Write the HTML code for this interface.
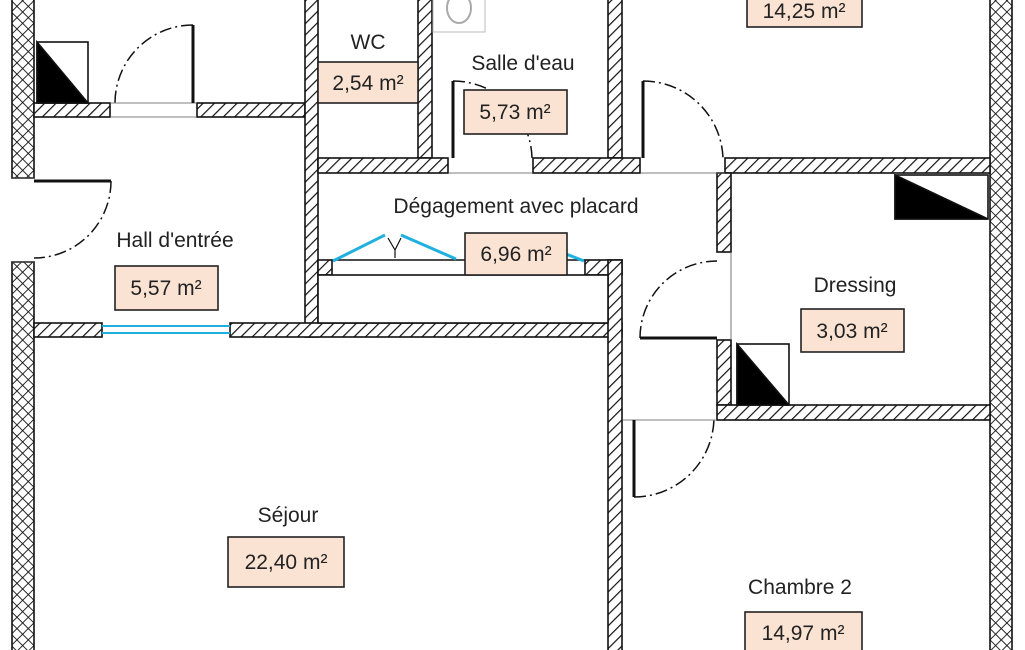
<!DOCTYPE html>
<html><head><meta charset="utf-8"><style>
html,body{margin:0;padding:0;background:#fff;}
svg{display:block;}
text{font-family:"Liberation Sans",sans-serif;fill:#222;}
</style></head><body>
<svg width="1025" height="650" viewBox="0 0 1025 650" xmlns="http://www.w3.org/2000/svg">
<defs>
<pattern id="h" width="8" height="8" patternUnits="userSpaceOnUse" patternTransform="rotate(45)">
<rect width="8" height="8" fill="#fff"/><line x1="0" y1="0" x2="0" y2="8" stroke="#111" stroke-width="2.4"/>
</pattern>
<pattern id="x" width="8" height="8" patternUnits="userSpaceOnUse" patternTransform="rotate(45)">
<rect width="8" height="8" fill="#fff"/><line x1="0" y1="0" x2="0" y2="8" stroke="#111" stroke-width="1.8"/><line x1="0" y1="0" x2="8" y2="0" stroke="#111" stroke-width="1.8"/>
</pattern>
</defs>
<g stroke="#111" stroke-width="1.6">
<rect x="12" y="-2" width="22" height="180" fill="url(#x)"/>
<rect x="12" y="262" width="22" height="392" fill="url(#x)"/>
<rect x="990" y="-2" width="22" height="656" fill="url(#x)"/>
<rect x="34" y="103" width="76" height="14" fill="url(#h)"/>
<rect x="197" y="103" width="108" height="14" fill="url(#h)"/>
<rect x="305" y="-2" width="13" height="339" fill="url(#h)"/>
<rect x="418" y="-2" width="14" height="160" fill="url(#h)"/>
<rect x="608" y="-2" width="14" height="160" fill="url(#h)"/>
<rect x="318" y="158" width="130" height="15" fill="url(#h)"/>
<rect x="533" y="158" width="107" height="15" fill="url(#h)"/>
<rect x="725" y="158" width="265" height="15" fill="url(#h)"/>
<rect x="717" y="173" width="14" height="79" fill="url(#h)"/>
<rect x="717" y="340" width="14" height="65" fill="url(#h)"/>
<rect x="717" y="405" width="273" height="15" fill="url(#h)"/>
<rect x="34" y="323" width="68" height="14" fill="url(#h)"/>
<rect x="230" y="323" width="392" height="14" fill="url(#h)"/>
<rect x="318" y="260" width="14" height="15" fill="url(#h)"/>
<rect x="585" y="260" width="37" height="15" fill="url(#h)"/>
<rect x="608" y="260" width="14" height="394" fill="url(#h)"/>
<rect x="318" y="275" width="290" height="48" fill="#fff"/>
<line x1="332" y1="260" x2="585" y2="260"/>
<!-- door frames -->
<g stroke-width="0.8" stroke="#555">
<line x1="110" y1="103" x2="197" y2="103"/><line x1="110" y1="117" x2="197" y2="117"/>
<line x1="12" y1="178" x2="34" y2="178"/><line x1="12" y1="262" x2="34" y2="262"/>
<line x1="448" y1="173" x2="533" y2="173"/><line x1="640" y1="173" x2="725" y2="173"/>
<line x1="731" y1="252" x2="731" y2="340"/><line x1="622" y1="420" x2="717" y2="420"/>
</g>
<g stroke="#1fb0e0" stroke-width="2"><line x1="102" y1="326" x2="230" y2="326"/><line x1="102" y1="333" x2="230" y2="333"/></g>
<g stroke="#1fb0e0" stroke-width="3"><line x1="333" y1="261" x2="385" y2="235"/><line x1="401" y1="235" x2="456" y2="259"/><line x1="566" y1="254" x2="584" y2="261"/></g>
<path d="M388 238 L395 250 L401 238 M395 250 L395 258" fill="none" stroke-width="1.2"/>
<g stroke-width="3"><line x1="193" y1="25" x2="193" y2="103"/><line x1="34" y1="181" x2="111" y2="181"/><line x1="453" y1="81" x2="453" y2="158"/><line x1="643" y1="81" x2="643" y2="158"/><line x1="640" y1="338" x2="717" y2="338"/><line x1="634" y1="420" x2="634" y2="497"/></g>
<g fill="none" stroke-width="1.5" stroke-dasharray="12 4 2 4">
<path d="M193 25 A78 78 0 0 0 115 103"/>
<path d="M111 181 A77 77 0 0 1 34 258"/>
<path d="M453 81 A79 79 0 0 1 532 158"/>
<path d="M643 81 A80 80 0 0 1 723 158"/>
<path d="M640 338 A77 77 0 0 1 717 261"/>
<path d="M634 497 A80 80 0 0 0 714 417"/>
</g>
<rect x="37" y="42" width="51" height="61" fill="#fff"/><path d="M37 42 L88 103 L37 103Z" fill="#000"/>
<rect x="895" y="175" width="93" height="44" fill="#fff"/><path d="M895 175 L988 219 L895 219Z" fill="#000"/>
<rect x="737" y="344" width="52" height="61" fill="#fff"/><path d="M737 344 L789 405 L737 405Z" fill="#000"/>
<rect x="433" y="-2" width="52" height="34" fill="#fff" stroke="#bbb" stroke-width="1"/>
<ellipse cx="459" cy="8" rx="12" ry="15" fill="none" stroke="#aaa" stroke-width="2"/>
<g fill="#fbe3d3" stroke="#222" stroke-width="1.6">
<rect x="747" y="-5" width="115" height="32"/>
<rect x="318" y="62" width="100" height="41"/>
<rect x="464" y="90" width="103" height="44"/>
<rect x="465" y="233" width="102" height="42"/>
<rect x="115" y="266" width="103" height="44"/>
<rect x="801" y="309" width="103" height="43"/>
<rect x="228" y="537" width="116" height="50"/>
<rect x="745" y="612" width="117" height="44"/>
</g>
</g>
<g font-size="21" text-anchor="middle">
<text x="804" y="18">14,25 m²</text>
<text x="368" y="49">WC</text>
<text x="368" y="90">2,54 m²</text>
<text x="523" y="70">Salle d'eau</text>
<text x="515" y="119">5,73 m²</text>
<text x="516" y="213">Dégagement avec placard</text>
<text x="516" y="261">6,96 m²</text>
<text x="175" y="247">Hall d'entrée</text>
<text x="166" y="295">5,57 m²</text>
<text x="855" y="292">Dressing</text>
<text x="852" y="338">3,03 m²</text>
<text x="288" y="522">Séjour</text>
<text x="286" y="569">22,40 m²</text>
<text x="800" y="594">Chambre 2</text>
<text x="803" y="640">14,97 m²</text>
</g>
</svg>
</body></html>
